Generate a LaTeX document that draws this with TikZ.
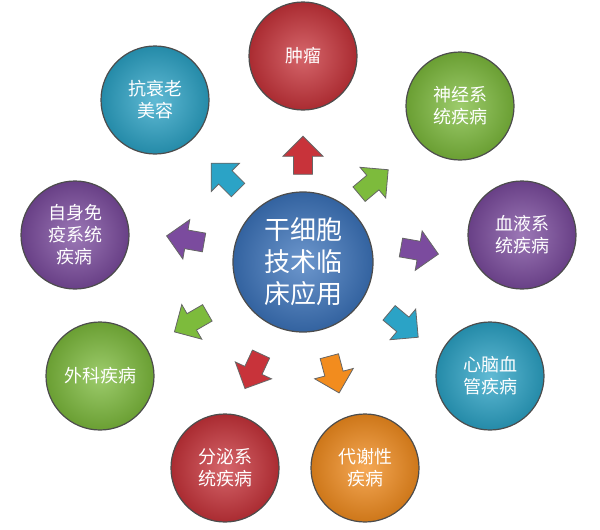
\documentclass[tikz,border=0pt]{standalone}
\usepackage{fontspec}
\setmainfont{Noto Sans CJK SC}
\usetikzlibrary{shapes.arrows}
\definecolor{cred}{HTML}{C8333A}
\definecolor{cgreen}{HTML}{7DBB3C}
\definecolor{cpurple}{HTML}{7B4B9E}
\definecolor{cteal}{HTML}{2BA3C6}
\definecolor{corange}{HTML}{F28C1E}
\definecolor{cblue}{HTML}{3C74BC}
\tikzset{
 ball/.style={circle,minimum size=108pt,draw=black!70,line width=1.2pt,text=white,font=\fontsize{18}{22}\selectfont,align=center,
   inner color=#1!75!white, outer color=#1!85!black},
 arr/.style={single arrow,draw=black!60,line width=0.8pt,fill=#1,minimum height=38pt,minimum width=40pt,single arrow head extend=6pt,inner sep=5pt}
}
\begin{document}
\begin{tikzpicture}[x=1pt,y=-1pt]
\useasboundingbox (0,0) rectangle (600,530);
\node[ball=cblue,minimum size=140pt,font=\fontsize{26}{32}\selectfont] (c) at (303,262) {干细胞\\技术临\\床应用};
\node[ball=cred] (a1) at (303,56) {肿瘤};
\node[ball=cgreen] (a2) at (460,106) {神经系\\统疾病};
\node[ball=cpurple] (a3) at (522,235) {血液系\\统疾病};
\node[ball=cteal] (a4) at (490,376) {心脑血\\管疾病};
\node[ball=corange] (a5) at (365,468) {代谢性\\疾病};
\node[ball=cred] (a6) at (225,468) {分泌系\\统疾病};
\node[ball=cgreen] (a7) at (100,376) {外科疾病};
\node[ball=cpurple] (a8) at (75,235) {自身免\\疫系统\\疾病};
\node[ball=cteal] (a9) at (155,100) {抗衰老\\美容};
\node[arr=cred,rotate=90] (r1) at (303,160) {};
\node[arr=cgreen,rotate=40] (r2) at (370,185) {};
\node[arr=cpurple,rotate=-10] (r3) at (415,250) {};
\node[arr=cteal,rotate=-40] (r4) at (400,322) {};
\node[arr=corange,rotate=-75] (r5) at (333,370) {};
\node[arr=cred,rotate=-115] (r6) at (255,367) {};
\node[arr=cgreen,rotate=-150] (r7) at (195,320) {};
\node[arr=cpurple,rotate=170] (r8) at (190,240) {};
\node[arr=cteal,rotate=135] (r9) at (228,180) {};
\end{tikzpicture}
\end{document}
